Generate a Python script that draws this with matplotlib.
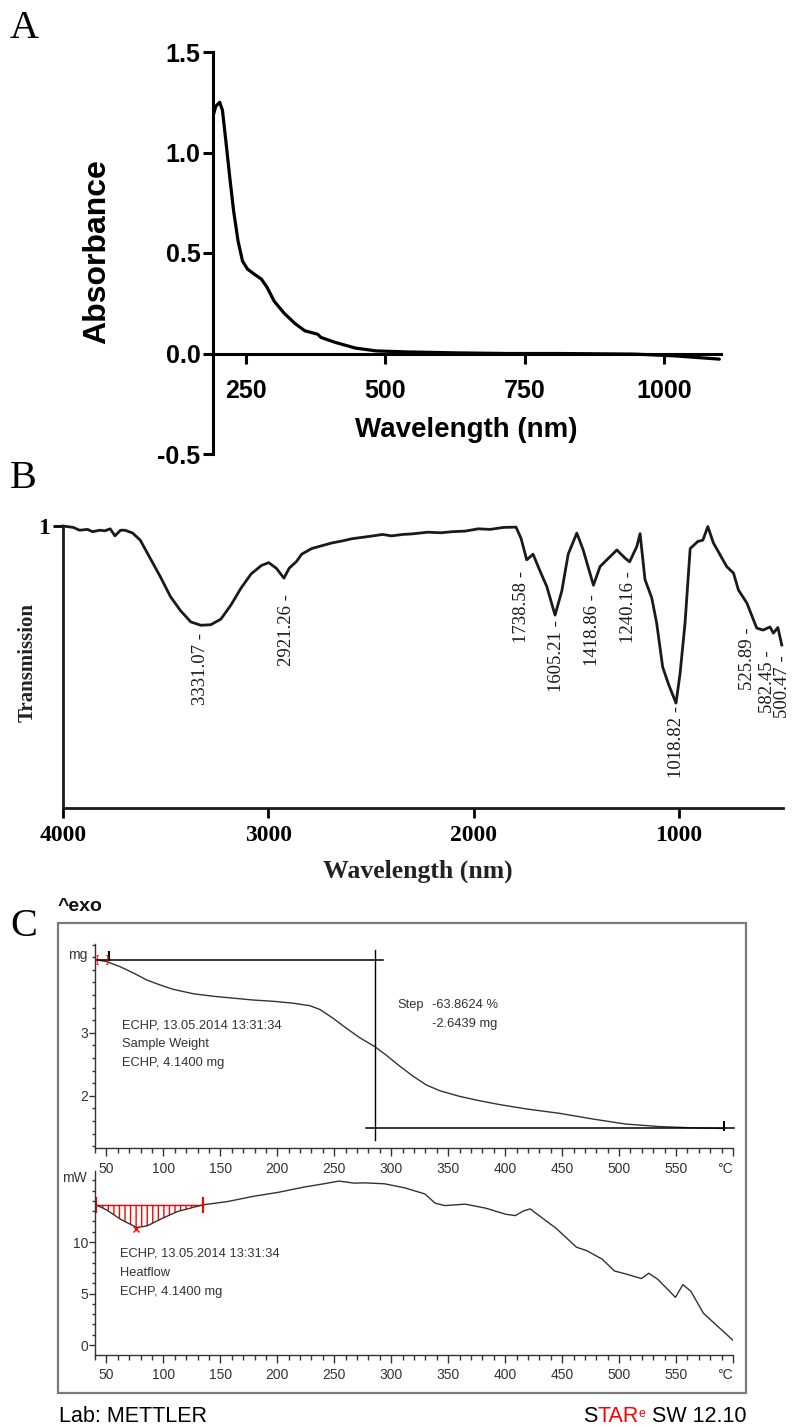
import numpy as np
import matplotlib.pyplot as plt
from matplotlib.patches import Rectangle
from matplotlib.ticker import MultipleLocator

W, H = 792, 1427

def fx(px):
    return px / W

def fy(py):
    return 1 - py / H

SANS = ['Liberation Sans']
SERIF = ['Liberation Serif']

## panel A data : UV-vis spectrum
uv_wavelength = [191, 195, 202, 207, 213, 220, 227, 235, 243, 252, 264, 277, 287, 300,
                 318, 337, 355, 378, 384, 410, 446, 483, 537, 629, 720, 811, 948, 1021, 1100]
uv_absorbance = [1.19, 1.23, 1.25, 1.21, 1.06, 0.88, 0.71, 0.56, 0.46, 0.42, 0.395, 0.37, 0.33, 0.26,
                 0.20, 0.15, 0.113, 0.096, 0.080, 0.055, 0.027, 0.013, 0.008, 0.003, 0.0, 0.0,
                 -0.003, -0.012, -0.028]
uv_xticks = [250, 500, 750, 1000]
uv_yticks = [-0.5, 0.0, 0.5, 1.0, 1.5]

## panel B data : FTIR spectrum
ir_wavenumber = [4000, 3950, 3919, 3880, 3857, 3820, 3796, 3770, 3747, 3720, 3698, 3661, 3624, 3575,
                 3526, 3477, 3428, 3378, 3329, 3280, 3231, 3182, 3133, 3084, 3034, 2998, 2961, 2924,
                 2899, 2862, 2838, 2789, 2740, 2690, 2640, 2592, 2540, 2490, 2445, 2400, 2346, 2300,
                 2224, 2160, 2101, 2040, 1978, 1920, 1855, 1794, 1769, 1742, 1711, 1677, 1644, 1604,
                 1571, 1540, 1498, 1467, 1417, 1385, 1352, 1303, 1263, 1241, 1206, 1190, 1166, 1133,
                 1109, 1080, 1052, 1015, 995, 971, 946, 909, 884, 860, 833, 768, 735, 711, 670, 622,
                 591, 557, 541, 519, 500]
ir_transmission = [1.0, 0.995, 0.985, 0.988, 0.98, 0.985, 0.983, 0.99, 0.965, 0.985, 0.985, 0.975, 0.95, 0.885,
                   0.82, 0.75, 0.70, 0.66, 0.648, 0.65, 0.67, 0.72, 0.78, 0.83, 0.86, 0.87, 0.85, 0.815,
                   0.85, 0.875, 0.90, 0.92, 0.93, 0.94, 0.947, 0.955, 0.96, 0.965, 0.97, 0.965, 0.97, 0.972,
                   0.978, 0.976, 0.98, 0.982, 0.99, 0.988, 0.995, 0.996, 0.955, 0.88, 0.90, 0.84, 0.785, 0.684,
                   0.77, 0.90, 0.975, 0.915, 0.79, 0.856, 0.88, 0.915, 0.886, 0.873, 0.927, 0.973, 0.81, 0.745,
                   0.655, 0.50, 0.44, 0.372, 0.478, 0.656, 0.92, 0.945, 0.95, 0.998, 0.94, 0.856, 0.833, 0.773,
                   0.727, 0.638, 0.631, 0.642, 0.62, 0.64, 0.578]
ir_xticks = [4000, 3000, 2000, 1000]
peak_text = ['3331.07', '2921.26', '1738.58', '1605.21', '1418.86', '1240.16', '1018.82',
             '525.89', '582.45', '500.47']
peak_pos = [3329, 2912, 1765, 1599, 1424, 1248, 1015, 669, 571, 498]
peak_top = [0.62, 0.76, 0.84, 0.667, 0.76, 0.84, 0.36, 0.64, 0.56, 0.54]

## panel C data : TGA / DSC
tga_temp = [41.5, 50.3, 62, 73.6, 85.3, 97, 108.7, 126.2, 143.8, 161.3, 178.9, 196.4, 214, 228.6,
            237.4, 249, 260.8, 272.5, 285.6, 295.9, 307.5, 319.2, 331, 342.6, 360, 377.7, 395, 418.7,
            448, 477, 506, 535.6, 565, 592]
tga_mg = [4.16, 4.13, 4.05, 3.95, 3.84, 3.76, 3.69, 3.62, 3.58, 3.55, 3.52, 3.50, 3.47, 3.43,
          3.37, 3.23, 3.07, 2.92, 2.78, 2.64, 2.47, 2.31, 2.17, 2.08, 1.99, 1.92, 1.86, 1.79,
          1.72, 1.63, 1.55, 1.51, 1.49, 1.48]
tga_start_mg = 4.16
tga_end_mg = 1.48
tga_step_temp = 285.6

dsc_temp = [41, 50, 63.5, 76.8, 85.7, 99, 112.3, 134.5, 156.7, 178.9, 201, 223, 241, 254, 267.5,
            276, 294, 312, 329.6, 338.5, 347, 365, 383, 400.5, 409, 416, 422, 427, 445, 462.6,
            471.5, 485, 496, 507, 519.7, 526, 534, 549.5, 556, 563, 574, 587, 600]
dsc_mw = [13.61, 13.13, 12.14, 11.41, 11.57, 12.30, 12.96, 13.61, 13.94, 14.44, 14.83, 15.33, 15.66,
          15.92, 15.72, 15.75, 15.66, 15.26, 14.67, 13.78, 13.54, 13.68, 13.29, 12.70, 12.57, 13.02,
          13.22, 12.80, 11.31, 9.50, 9.17, 8.35, 7.19, 6.87, 6.45, 6.97, 6.38, 4.63, 5.87, 5.22,
          3.09, 1.77, 0.46]
dsc_peak_lim = [41, 134.5]
dsc_peak_min = (76, 11.3)
temp_labels = ['50', '100', '150', '200', '250', '300', '350', '400', '450', '500', '550', '°C']

fig = plt.figure(figsize=(W / 100, H / 100), dpi=100)
bg = fig.add_axes([0, 0, 1, 1])
bg.set_xlim(0, 1)
bg.set_ylim(0, 1)
bg.axis('off')

# panel letters
for letter, px, py in [('A', 10, 29), ('B', 10, 478), ('C', 10, 926)]:
    fig.text(fx(px), fy(py), letter, fontsize=29, family=SERIF, ha='left', va='center')

# ---------------- panel A ----------------
axA = fig.add_axes([fx(213), fy(454), (721 - 213) / W, (454 - 52) / H])
axA.plot(uv_wavelength, uv_absorbance, color='black', lw=2.3, solid_capstyle='round')
axA.set_xlim(190, 1103)
axA.set_ylim(-0.5, 1.5)
axA.spines['bottom'].set_position(('data', 0))
for s in ['top', 'right']:
    axA.spines[s].set_visible(False)
for s in ['left', 'bottom']:
    axA.spines[s].set_linewidth(2.2)
axA.set_xticks(uv_xticks)
axA.set_yticks(uv_yticks)
axA.set_yticklabels(['%.1f' % v for v in uv_yticks])
axA.tick_params(axis='both', direction='out', length=7.5, width=2.2, labelsize=18)
axA.tick_params(axis='x', pad=11)
axA.tick_params(axis='y', pad=1.5)
for lab in axA.get_xticklabels() + axA.get_yticklabels():
    lab.set_family(SANS)
    lab.set_fontweight('bold')
fig.text(fx(97), fy(252), 'Absorbance', rotation=90, ha='center', va='center',
         fontsize=23, fontweight='bold', family=SANS)
fig.text(fx(466), fy(430), 'Wavelength (nm)', ha='center', va='center',
         fontsize=20, fontweight='bold', family=SANS)

# ---------------- panel B ----------------
axB = fig.add_axes([fx(63), fy(808), (783 - 63) / W, (808 - 526) / H])
axB.plot(ir_wavenumber, ir_transmission, color='#1a1a1a', lw=2.0, clip_on=False)
axB.set_xlim(4000, 494)
axB.set_ylim(0, 1)
for s in ['top', 'right']:
    axB.spines[s].set_visible(False)
for s in ['left', 'bottom']:
    axB.spines[s].set_linewidth(2.0)
    axB.spines[s].set_color('#1a1a1a')
axB.set_xticks(ir_xticks)
axB.set_yticks([1])
axB.set_yticklabels(['1'])
axB.tick_params(axis='both', direction='out', length=7.5, width=2.0, labelsize=17, pad=5)
axB.tick_params(axis='y', pad=2)
for lab in axB.get_xticklabels() + axB.get_yticklabels():
    lab.set_family(SERIF)
    lab.set_fontweight('bold')
for txt, xp, yp in zip(peak_text, peak_pos, peak_top):
    axB.text(xp, yp, txt + ' -', rotation=90, ha='center', va='top',
             fontsize=13.5, family=SERIF, color='#1a1a1a')
fig.text(fx(418), fy(871), 'Wavelength (nm)', ha='center', va='center',
         fontsize=18.5, fontweight='bold', family=SERIF, color='#222222')
fig.text(fx(28), fy(663), 'Transmission', rotation=90, ha='center', va='center',
         fontsize=15, fontweight='bold', family=SERIF, color='#222222')

# ---------------- panel C ----------------
bg.add_patch(Rectangle((fx(58), fy(1393)), (746 - 58) / W, (1393 - 923) / H,
                       facecolor='none', edgecolor='#7a7a7a', lw=1.6))
fig.text(fx(58), fy(906), '^exo', ha='left', va='center', fontsize=14, fontweight='bold',
         family=SANS, color='#111111')

def style_c(ax):
    ax.set_facecolor('none')
    for s in ['top', 'right']:
        ax.spines[s].set_visible(False)
    for s in ['left', 'bottom']:
        ax.spines[s].set_linewidth(1.0)
        ax.spines[s].set_color('#333333')
    ax.set_xlim(40, 600)
    ax.set_xticks(range(50, 601, 50))
    ax.set_xticklabels(temp_labels)
    ax.get_xticklabels()[-1].set_ha('right')
    ax.xaxis.set_minor_locator(MultipleLocator(10))
    ax.tick_params(axis='x', which='major', direction='out', length=5.5, width=1, pad=4.5,
                   labelsize=10, colors='#333333')
    ax.tick_params(axis='x', which='minor', direction='out', length=3.5, width=1, colors='#333333')
    ax.tick_params(axis='y', which='major', direction='out', length=4, width=1, pad=1,
                   labelsize=10, colors='#333333')
    ax.tick_params(axis='y', which='minor', direction='out', length=2.5, width=1, colors='#333333')
    for lab in ax.get_xticklabels() + ax.get_yticklabels():
        lab.set_family(SANS)

axT = fig.add_axes([fx(95), fy(1148), (733 - 95) / W, (1148 - 944) / H])
axT.set_ylim(1.17, 4.41)
axT.set_yticks([2, 3])
axT.yaxis.set_minor_locator(MultipleLocator(0.2))
style_c(axT)
axT.plot(tga_temp, tga_mg, color='#333333', lw=1.0)
axT.plot([40, 293], [tga_start_mg, tga_start_mg], color='black', lw=1.1)
axT.plot([278, 601], [tga_end_mg, tga_end_mg], color='black', lw=1.1, clip_on=False)
axT.plot([tga_step_temp, tga_step_temp], [1.30, 4.32], color='black', lw=1.0)
axT.text(42, tga_start_mg, '[', color='red', ha='center', va='center', fontsize=8, family=SANS)
axT.text(51, tga_start_mg, ']', color='red', ha='center', va='center', fontsize=8, family=SANS)
axT.plot([52], [tga_start_mg + 0.06], marker='|', color='black', ms=7, mew=1.5)
axT.plot([592], [tga_end_mg + 0.04], marker='|', color='black', ms=7, mew=1.5)
fig.text(fx(68), fy(955), 'mg', ha='left', va='center', fontsize=10, family=SANS, color='#333333')
for i, line in enumerate(['ECHP, 13.05.2014 13:31:34', 'Sample Weight', 'ECHP, 4.1400 mg']):
    fig.text(fx(122), fy(1025.5 + 18.7 * i), line, ha='left', va='center',
             fontsize=9.3, family=SANS, color='#333333')
fig.text(fx(397), fy(1005), 'Step', ha='left', va='center', fontsize=9.3, family=SANS, color='#333333')
fig.text(fx(432), fy(1005), '-63.8624 %', ha='left', va='center', fontsize=9.3, family=SANS, color='#333333')
fig.text(fx(432), fy(1024), '-2.6439 mg', ha='left', va='center', fontsize=9.3, family=SANS, color='#333333')

axD = fig.add_axes([fx(95), fy(1354.5), (733 - 95) / W, (1354.5 - 1171) / H])
axD.set_ylim(-0.92, 16.9)
axD.set_yticks([0, 5, 10])
axD.yaxis.set_minor_locator(MultipleLocator(1))
style_c(axD)
t_arr = np.array(dsc_temp)
m_arr = np.array(dsc_mw)
sel = (t_arr >= dsc_peak_lim[0]) & (t_arr <= dsc_peak_lim[1])
base = dsc_mw[0]
axD.fill_between(t_arr[sel], m_arr[sel], base, facecolor='none', edgecolor='red',
                 hatch='|||', lw=0)
axD.plot(dsc_peak_lim, [base, base], color='red', lw=1.0)
axD.plot(dsc_temp, dsc_mw, color='#333333', lw=1.0)
axD.plot(dsc_peak_lim, [base, base], ls='none', marker='|', color='red', ms=11, mew=1.6)
axD.plot([dsc_peak_min[0]], [dsc_peak_min[1]], ls='none', marker='x', color='red', ms=5, mew=1)
fig.text(fx(62), fy(1177.5), 'mW', ha='left', va='center', fontsize=10, family=SANS, color='#333333')
for i, line in enumerate(['ECHP, 13.05.2014 13:31:34', 'Heatflow', 'ECHP, 4.1400 mg']):
    fig.text(fx(120), fy(1254 + 18.8 * i), line, ha='left', va='center',
             fontsize=9.3, family=SANS, color='#333333')

# footer
bg.text(fx(59), fy(1422), 'Lab: METTLER', ha='left', va='baseline', fontsize=15.5, family=SANS)
t1 = bg.text(fx(746), fy(1422), ' SW 12.10', ha='right', va='baseline', fontsize=15.5, family=SANS)
t2 = bg.annotate('e', xy=(0, 0.92), xycoords=t1, ha='right', va='top', fontsize=9,
                 family=SANS, color='red')
t3 = bg.annotate('TAR', xy=(0, 0), xycoords=(t2, t1), ha='right', va='bottom', fontsize=15.5,
                 family=SANS, color='red')
t4 = bg.annotate('S', xy=(0, 0), xycoords=(t3, t1), ha='right', va='bottom', fontsize=15.5,
                 family=SANS, color='black')

fig.savefig('out.png', dpi=100)
